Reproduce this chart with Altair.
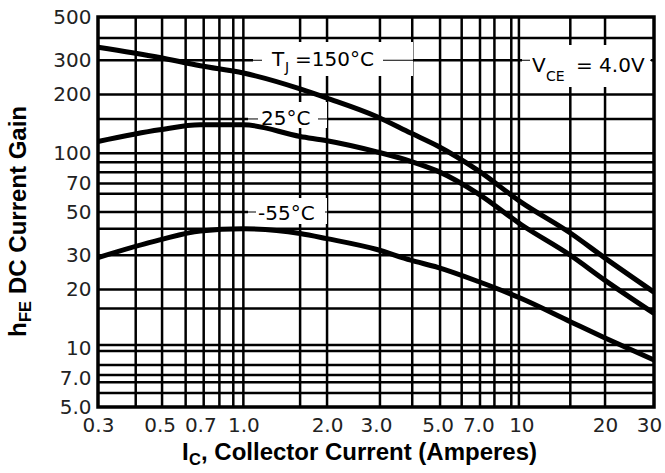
import altair as alt
import pandas as pd

# ---- data ----
ic_values = [0.3, 0.5, 0.7, 1.0, 1.6, 2.0, 3.0, 4.0, 5.0, 7.0, 10, 15, 20, 30]
hfe_150 = [350, 310, 281, 258, 214, 192, 155, 127, 109, 81.5, 56, 39, 29, 19.4]
hfe_25 = [115, 132, 140, 140, 122, 116, 102, 91, 81, 62, 43, 30, 22.3, 15.1]
hfe_m55 = [29.2, 36, 40, 41, 38.8, 36.5, 32.2, 28.3, 26, 22, 18, 13.7, 11.3, 8.7]
series_names = ["150", "25", "-55"]

x_ticks = [0.3, 0.5, 0.7, 1.0, 2.0, 3.0, 5.0, 7.0, 10, 20, 30]
y_ticks = [5, 7, 10, 20, 30, 50, 70, 100, 200, 300, 500]
x_grid = [0.41, 0.51, 0.62, 0.72, 0.82, 0.92, 1.0, 1.6, 2.0, 3.1, 4.05, 5.1, 6.1, 7.1, 8.0, 9.2, 9.8, 15, 20]
y_grid = [390, 300, 200, 150, 100, 90, 80, 70, 62, 50, 41, 30, 20, 16, 10.4, 9.7, 8.2, 7.3, 6.7, 5.9]

rows = []
for name, vals in zip(series_names, [hfe_150, hfe_25, hfe_m55]):
    for x, y in zip(ic_values, vals):
        rows.append({"ic": x, "hfe": y, "series": name})
curves = pd.DataFrame(rows)

W, H = 556, 390
xs = alt.Scale(type="log", domain=[0.3, 30], nice=False)
ys = alt.Scale(type="log", domain=[5, 500], nice=False)
label_expr = "datum.value < 10 ? format(datum.value, '.1f') : format(datum.value, 'd')"
LBL_FONT = "DejaVu Sans"
TTL_FONT = "Liberation Sans"

one = pd.DataFrame({"k": [0]})

base_axes = alt.Chart(curves).mark_line(opacity=0).encode(
    x=alt.X("ic:Q", scale=xs, axis=alt.Axis(values=x_ticks, labelExpr=label_expr, grid=False, ticks=False,
                                             domain=False, title=None, labelFont=LBL_FONT, labelFontSize=20,
                                             labelColor="#222", labelPadding=8, labelFlush=False,
                                             labelOverlap=False,
                                             labelOffset={"condition": {"test": "datum.value >= 30", "value": -5},
                                                          "value": 0})),
    y=alt.Y("hfe:Q", scale=ys, axis=alt.Axis(values=y_ticks, labelExpr=label_expr, grid=False, ticks=False,
                                              domain=False, title=None, labelFont=LBL_FONT, labelFontSize=20,
                                              labelColor="#222", labelPadding=7, labelFlush=False,
                                              labelOverlap=False)),
)

vgrid = alt.Chart(pd.DataFrame({"v": x_grid})).mark_rule(color="black", strokeWidth=2.5).encode(
    x=alt.X("v:Q", scale=xs))
hgrid = alt.Chart(pd.DataFrame({"h": y_grid})).mark_rule(color="black", strokeWidth=2.5).encode(
    y=alt.Y("h:Q", scale=ys))


def box(x1, x2, y1, y2):
    return alt.Chart(one).mark_rect(color="white").encode(
        x=alt.value(x1), x2=alt.value(x2), y=alt.value(y1), y2=alt.value(y2))


def thin(x1, x2, level):
    return alt.Chart(one).mark_rule(color="black", strokeWidth=1).encode(
        x=alt.value(x1), x2=alt.value(x2), y=alt.datum(level, scale=ys))


def txt(s, x, y, size, font=LBL_FONT, weight="normal", angle=0, color="black"):
    return alt.Chart(one).mark_text(text=s, align="left", baseline="alphabetic", font=font, fontSize=size,
                                    fontWeight=weight, angle=angle, color=color).encode(
        x=alt.value(x), y=alt.value(y))


annot = [
    # T_J = 150°C
    box(155, 315, 25, 59), thin(155, 315, 300), box(164, 285, 30, 56),
    txt("T", 174, 49, 20), txt("J", 187, 55, 14), txt("=150°C", 197, 49, 20),
    # V_CE = 4.0V
    box(424, 553, 28, 69), thin(424, 553, 300), box(432, 552, 32, 70),
    txt("V", 434, 55, 20), txt("CE", 448, 64, 14), txt("= 4.0V", 478, 55, 20),
    # 25°C
    box(150, 229, 85, 111), thin(150, 229, 150), box(160, 220, 87, 111),
    txt("25°C", 163, 108, 20),
    # -55°C
    box(150, 229, 181, 207), thin(150, 229, 50), box(158, 227, 183, 207),
    txt("-55°C", 160, 203, 20),
]

lines = alt.Chart(curves).mark_line(color="black", strokeWidth=5, interpolate="monotone").encode(
    x=alt.X("ic:Q", scale=xs), y=alt.Y("hfe:Q", scale=ys), detail="series:N")

frame = alt.Chart(one).mark_rect(fillOpacity=0, stroke="black", strokeWidth=3.5).encode(
    x=alt.value(0), x2=alt.value(W), y=alt.value(0), y2=alt.value(H))

titles = [
    txt("I", 84, 443, 24, font=TTL_FONT, weight="bold"),
    txt("C", 91, 448, 16.5, font=TTL_FONT, weight="bold"),
    txt(", Collector Current (Amperes)", 103, 443, 24, font=TTL_FONT, weight="bold"),
    txt("h", -72, 320, 24, font=TTL_FONT, weight="bold", angle=270),
    txt("FE", -67, 305, 16.5, font=TTL_FONT, weight="bold", angle=270),
    txt("DC Current Gain", -72, 277, 24, font=TTL_FONT, weight="bold", angle=270),
]

chart = alt.layer(base_axes, vgrid, hgrid, *annot, lines, frame, *titles).properties(
    width=W, height=H,
    autosize=alt.AutoSizeParams(type="none"),
    padding={"left": 98, "top": 17, "right": 11, "bottom": 66},
).configure_view(stroke=None).configure(background="white")

chart.save("out.html", embed_options={"renderer": "svg", "actions": False})
